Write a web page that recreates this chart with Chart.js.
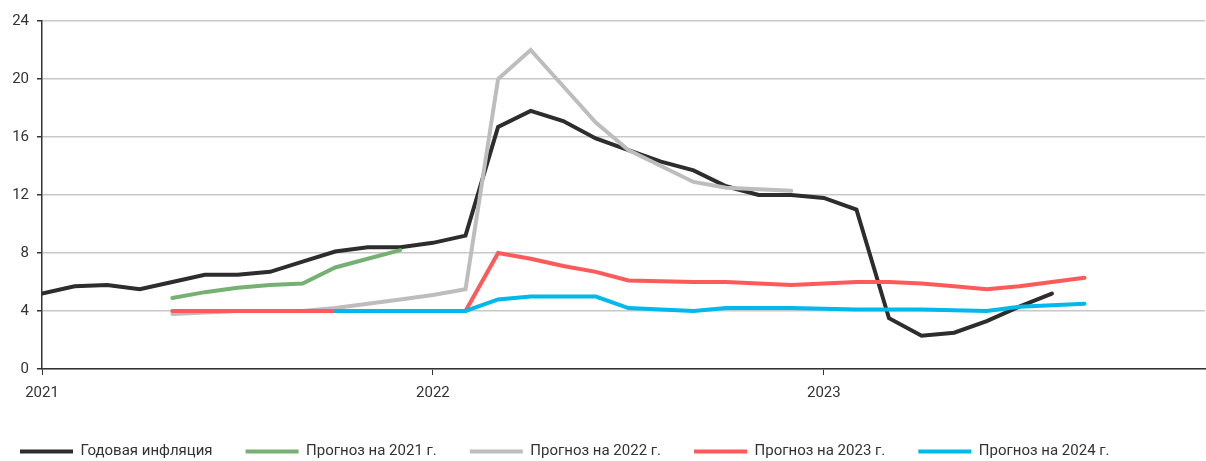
<!DOCTYPE html>
<html>
<head>
<meta charset="utf-8">
<script src="https://cdn.jsdelivr.net/npm/chart.js@4"></script>
<style>
  html, body { margin: 0; padding: 0; background: #fff; }
  #wrap { width: 1206px; height: 461px; }
</style>
</head>
<body>
<div id="wrap"><canvas id="chart"></canvas></div>
<script>
// month index from Jan 2021
const months = Array.from({ length: 33 }, (_, i) => i);
const yearTicks = [0, 12, 24];
const yearLabels = ["2021", "2022", "2023"];

const seriesNames = [
  "Годовая инфляция",
  "Прогноз на 2021 г.",
  "Прогноз на 2022 г.",
  "Прогноз на 2023 г.",
  "Прогноз на 2024 г.",
];
const seriesColors = ["#2d2d2d", "#76b072", "#bdbdbd", "#ff5a5a", "#00b9ec"];

const _ = null;
const inflation = [5.2, 5.7, 5.8, 5.5, 6.0, 6.5, 6.5, 6.7, 7.4, 8.1, 8.4, 8.4,
  8.7, 9.2, 16.7, 17.8, 17.1, 15.9, 15.1, 14.3, 13.7, 12.6, 12.0, 12.0,
  11.8, 11.0, 3.5, 2.3, 2.5, 3.3, 4.3, 5.2, _];
const fc2021 = [_, _, _, _, 4.9, 5.3, 5.6, 5.8, 5.9, 7.0, 7.6, 8.2,
  _, _, _, _, _, _, _, _, _, _, _, _, _, _, _, _, _, _, _, _, _];
const fc2022 = [_, _, _, _, 3.8, 3.9, 4.0, 4.0, 4.0, 4.2, 4.5, 4.8,
  5.1, 5.5, 20.0, 22.0, 19.5, 17.0, 15.1, 14.0, 12.9, 12.5, 12.4, 12.3,
  _, _, _, _, _, _, _, _, _];
const fc2023 = [_, _, _, _, 4.0, 4.0, 4.0, 4.0, 4.0, 4.0, 4.0, 4.0,
  4.0, 4.0, 8.0, 7.6, 7.1, 6.7, 6.1, 6.05, 6.0, 6.0, 5.9, 5.8,
  5.9, 6.0, 6.0, 5.9, 5.7, 5.5, 5.7, 6.0, 6.3];
const fc2024 = [_, _, _, _, _, _, _, _, _, 4.0, 4.0, 4.0,
  4.0, 4.0, 4.8, 5.0, 5.0, 5.0, 4.2, 4.1, 4.0, 4.2, 4.2, 4.2,
  4.15, 4.1, 4.1, 4.1, 4.05, 4.0, 4.3, 4.4, 4.5];

const seriesData = [inflation, fc2021, fc2022, fc2023, fc2024];

const datasets = seriesData.map((vals, k) => ({
  label: seriesNames[k],
  data: months.map((m) => ({ x: m, y: vals[m] })),
  borderColor: seriesColors[k],
  backgroundColor: seriesColors[k],
  borderWidth: 4,
  borderCapStyle: "round",
  pointRadius: 0,
  tension: 0,
  spanGaps: false,
  order: seriesData.length - k,
}));

Chart.defaults.font.family = "Roboto, 'Noto Sans', sans-serif";
Chart.defaults.font.size = 15;
Chart.defaults.color = "#333333";

new Chart(document.getElementById("chart"), {
  type: "line",
  data: { datasets },
  options: {
    responsive: true,
    maintainAspectRatio: false,
    animation: false,
    layout: { padding: { top: 21, left: -13, right: 1, bottom: -8 } },
    plugins: {
      tooltip: { enabled: false },
      legend: {
        position: "bottom",
        align: "start",
        reverse: true,
        labels: {
          usePointStyle: true,
          pointStyle: "line",
          pointStyleWidth: 53,
          padding: 33,
          color: "#333333",
          font: { size: 15 },
        },
      },
    },
    scales: {
      x: {
        type: "linear",
        min: 0,
        max: 35.7,
        afterBuildTicks: (s) => {
          s.ticks = yearTicks.map((v) => ({ value: v }));
        },
        afterFit: (s) => {
          s.height = 42;
        },
        ticks: {
          callback: (v) => yearLabels[yearTicks.indexOf(v)],
          padding: 9,
          maxRotation: 0,
          autoSkip: false,
        },
        grid: {
          drawOnChartArea: false,
          drawTicks: true,
          tickLength: 6,
          tickColor: "#333333",
        },
        border: { color: "#333333", width: 1.5 },
      },
      y: {
        min: 0,
        max: 24,
        afterFit: (s) => {
          s.width = 55;
        },
        ticks: { stepSize: 4, padding: 8 },
        grid: {
          color: "#c8c8c8",
          lineWidth: 1.5,
          tickLength: 5,
          tickColor: "#333333",
        },
        border: { color: "#333333", width: 1.5 },
      },
    },
  },
});
</script>
</body>
</html>
